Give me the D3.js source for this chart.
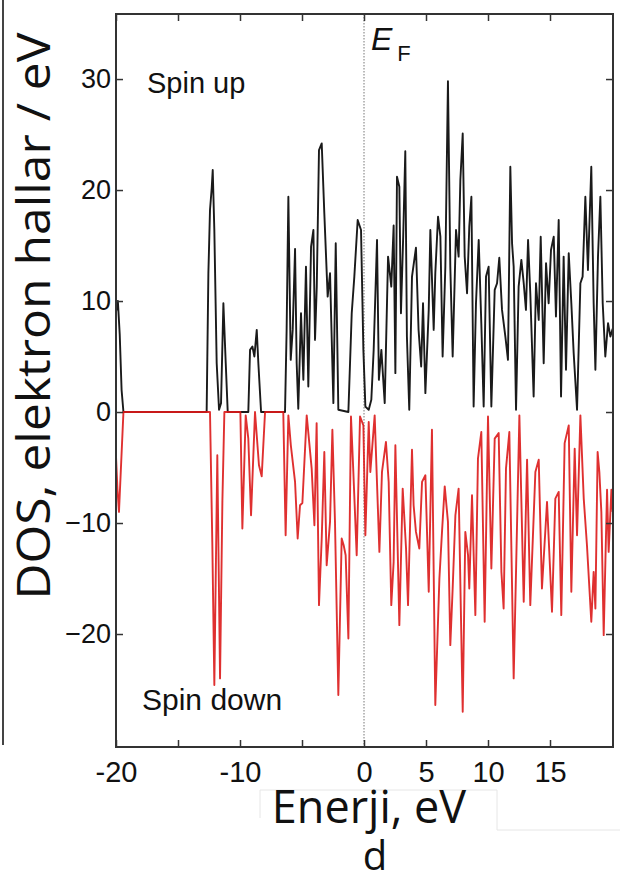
<!DOCTYPE html>
<html><head><meta charset="utf-8">
<script src="https://cdn.jsdelivr.net/npm/d3@7"></script>
<style>body{margin:0;background:#fff}svg{display:block}</style>
</head><body>
<svg id="c" width="623" height="882"></svg>
<script>
// ---- data ----
const upE = [-20,-19.85,-19.7,-19.55,-19.4,-12.69,-12.55,-12.42,-12.28,-12.2,-12.07,-11.88,-11.69,-11.53,-11.34,-11.15,-10.99,-9.33,-9.19,-9.0,-8.84,-8.65,-8.52,-8.3,-6.37,-6.24,-6.1,-5.91,-5.75,-5.56,-5.43,-5.3,-5.08,-4.89,-4.68,-4.49,-4.27,-4.08,-3.95,-3.81,-3.63,-3.41,-3.2,-2.93,-2.74,-2.47,-2.28,-2.07,-1.26,-0.99,-0.78,-0.51,-0.24,-0.05,0.11,0.38,0.59,0.78,1.05,1.2,1.4,1.67,1.94,2.2,2.39,2.53,2.66,2.85,2.98,3.16,3.33,3.46,3.65,3.87,4.19,4.4,4.61,4.76,4.95,5.22,5.35,5.62,5.75,5.97,6.16,6.34,6.56,6.77,6.96,7.15,7.42,7.63,7.77,7.96,8.12,8.31,8.49,8.66,8.84,9.03,9.25,9.46,9.65,9.84,10.05,10.27,10.54,10.73,10.91,11.13,11.4,11.61,11.8,11.94,12.07,12.26,12.47,12.69,12.88,13.06,13.23,13.41,13.68,13.87,14.09,14.25,14.49,14.68,14.89,15.08,15.3,15.48,15.7,15.89,16.1,16.29,16.51,16.72,16.91,17.18,17.45,17.63,17.85,18.06,18.33,18.52,18.66,18.87,19.06,19.25,19.46,19.68,19.87,20.05];
const upDOS = [9,10,7,2,0,0,12.5,18.2,20.2,21.8,16.4,4.4,0.2,0.8,9.8,4.4,0,0,5.6,5.9,5.0,7.4,4.4,0,0,7.4,19.4,4.7,7.4,14.7,4.4,0.3,8.9,2.9,13.1,2.3,14.9,16.4,6.5,11.3,23.6,24.2,17.9,10.4,12.5,0.8,15.2,0.2,0,8.9,12.2,17.3,16.4,5.6,0.5,0.2,1.1,5.6,15.5,2.9,5.6,0.8,14.0,11.3,16.8,3.5,21.2,20.3,8.9,15.8,23.5,6.8,0.2,12.2,14.8,7.4,4.1,9.8,1.7,9.2,16.4,7.4,12.5,17.6,15.8,5.0,13.1,29.8,13.1,5.0,16.4,14.0,20.9,25.1,14.0,10.7,16.7,19.4,0.5,9.8,15.5,8.0,0.5,12.2,13.1,0.5,11.0,11.6,13.9,9.2,6.8,4.7,22.1,15.2,13.1,0.2,11.3,13.7,11.6,9.2,15.5,10.7,1.4,11.6,8.3,15.8,4.4,13.4,9.8,14.6,15.8,8.6,17.3,1.4,14.0,3.8,14.3,9.8,5.3,0.2,11.6,12.2,19.4,12.8,22.1,9.8,3.8,14.0,19.4,9.8,5.0,8.0,6.8,7.5];
const downE = [-20,-19.88,-19.76,-19.6,-19.4,-12.42,-12.23,-12.07,-11.83,-11.61,-11.42,-11.26,-9.97,-9.81,-9.54,-9.33,-9.11,-8.79,-8.47,-8.25,-7.98,-6.51,-6.32,-6.1,-5.9,-5.56,-5.35,-5.16,-4.97,-4.62,-4.22,-4.0,-3.82,-3.63,-3.41,-3.2,-3.01,-2.74,-2.55,-2.34,-2.07,-1.8,-1.64,-1.48,-1.26,-1.05,-0.86,-0.59,-0.32,-0.05,0.11,0.38,0.51,0.86,1.24,1.45,1.77,1.99,2.2,2.39,2.53,2.85,3.12,3.39,3.55,3.87,4.0,4.19,4.46,4.68,4.95,5.22,5.48,5.75,6.08,6.29,6.51,6.77,6.96,7.15,7.37,7.63,7.96,8.17,8.39,8.49,8.71,8.98,9.19,9.46,9.73,10.0,10.27,10.54,10.86,11.08,11.26,11.45,11.72,12.07,12.26,12.53,12.88,13.15,13.41,13.82,14.09,14.35,14.76,15.16,15.43,15.7,15.91,16.18,16.51,16.72,16.99,17.18,17.45,17.72,17.98,18.33,18.52,18.66,18.84,18.98,19.14,19.33,19.6,19.73,19.95,20.05];
const downDOS = [-4,-7,-9.0,-5,0,0,-12,-24.6,-3.9,-24.0,-8,0,0,-10.5,-0.3,-2.4,-9.3,0,-4.8,-5.8,0,0,-11.1,-0.3,-3,-6.3,-11.4,-8.4,-8.2,-0.3,-5.1,-10.2,-1.0,-17.4,-11.4,-3.6,-13.8,-9.9,-1.6,-9.9,-25.5,-11.4,-12.0,-12.9,-20.4,-0.4,-5.4,-12.9,-0.4,-1.2,-11.1,-0.9,-5.4,-0.3,-12.6,-5.4,-2.7,-6.3,-17.4,-13.5,-3.0,-19.2,-6.9,-12.3,-17.4,-3.4,-8.4,-10.8,-12.3,-6.3,-5.7,-16.2,-1.6,-26.4,-15.0,-10.8,-6.7,-9.9,-21.0,-15.9,-9.3,-6.9,-27.0,-10.8,-12.9,-15.9,-7.5,-18.3,-4.2,-1.8,-18.9,-0.4,-14.1,-2.4,-1.9,-14.4,-17.7,-5.1,-1.8,-24.0,-14.4,-0.3,-17.1,-4.3,-17.4,-5.4,-4.3,-15.9,-8.1,-18.0,-7.8,-7.2,-18.3,-2.8,-1.2,-16.2,-3.3,-11.1,-0.3,-7.8,-12.0,-18.9,-14.4,-17.7,-3.6,-5.4,-9.0,-20.1,-7,-12.6,-7,-9];
const xTicks = [-20,-15,-10,-5,0,5,10,15];
const xTickLabels = ["-20","","-10","","0","5","10","15"];
const yTicks = [-20,-10,0,10,20,30];
const xDomain = [-20, 20.08];
const yDomain = [-30.18, 35.86];

// ---- layout ----
const L = 116, R = 613, T = 14, B = 747;
const svg = d3.select("#c");
const x = d3.scaleLinear().domain(xDomain).range([L, R]);
const y = d3.scaleLinear().domain(yDomain).range([B, T]);
const tickFont = "'Liberation Sans', Arial, sans-serif";
const frameCol = "#333";

// faint scan artifacts
svg.append("line").attr("x1",3).attr("x2",3).attr("y1",0).attr("y2",745).attr("stroke","#444").attr("stroke-width",2);
const faint = "#e6e6e6";
[[260,790,497,790],[260,790,260,818],[497,790,497,830],[497,830,620,830]].forEach(s=>{
  svg.append("line").attr("x1",s[0]).attr("y1",s[1]).attr("x2",s[2]).attr("y2",s[3]).attr("stroke",faint).attr("stroke-width",1);
});

// Fermi level dotted line
svg.append("line").attr("x1",x(0)).attr("x2",x(0)).attr("y1",T).attr("y2",B)
  .attr("stroke","#777").attr("stroke-width",1).attr("stroke-dasharray","1.5,1.5");

const line = d3.line().x(d=>x(d[0])).y(d=>y(d[1]));
const up = upE.map((e,i)=>[e, upDOS[i]]);
const down = downE.map((e,i)=>[e, downDOS[i]]);
svg.append("path").attr("d", line(up)).attr("fill","none").attr("stroke","#1a1a1a").attr("stroke-width",1.9).attr("stroke-linejoin","round");
svg.append("path").attr("d", line(down)).attr("fill","none").attr("stroke","#dc1a1a").attr("stroke-opacity",0.9).attr("stroke-width",1.9).attr("stroke-linejoin","round");

// axes (inward ticks)
function styleAxis(g){ g.select(".domain").remove(); g.selectAll(".tick line").attr("stroke",frameCol).attr("stroke-width",1.5); }
const gB = svg.append("g").attr("transform",`translate(0,${B})`)
  .call(d3.axisBottom(x).tickValues(xTicks).tickSize(-7).tickPadding(14).tickFormat((d,i)=>xTickLabels[i]));
styleAxis(gB);
gB.selectAll("text").attr("font-family",tickFont).attr("font-size",29).attr("fill","#111");
const gT = svg.append("g").attr("transform",`translate(0,${T})`)
  .call(d3.axisTop(x).tickValues(xTicks).tickSize(-7).tickFormat(""));
styleAxis(gT);
const gL = svg.append("g").attr("transform",`translate(${L},0)`)
  .call(d3.axisLeft(y).tickValues(yTicks).tickSize(-7).tickPadding(5));
styleAxis(gL);
gL.selectAll("text").attr("font-family",tickFont).attr("font-size",27).attr("fill","#111");
const gR = svg.append("g").attr("transform",`translate(${R},0)`)
  .call(d3.axisRight(y).tickValues(yTicks).tickSize(-7).tickFormat(""));
styleAxis(gR);

// frame
svg.append("rect").attr("x",L).attr("y",T).attr("width",R-L).attr("height",B-T)
  .attr("fill","none").attr("stroke",frameCol).attr("stroke-width",2);

// annotations
svg.append("text").attr("x",147).attr("y",93).attr("font-family",tickFont).attr("font-size",29).attr("fill","#111").text("Spin up");
svg.append("text").attr("x",142).attr("y",710).attr("font-family",tickFont).attr("font-size",30).attr("fill","#111").text("Spin down");
const ef = svg.append("text").attr("x",371).attr("y",50).attr("font-family",tickFont).attr("fill","#111");
ef.append("tspan").attr("font-size",32).attr("font-style","italic").text("E");
ef.append("tspan").attr("font-size",22).attr("dx",5).attr("dy",11).text("F");

// axis titles
const titleFont = "'Open Sans', 'Noto Sans', sans-serif";
svg.append("text").attr("transform","translate(50,316) rotate(-90)").attr("text-anchor","middle")
  .attr("font-family",titleFont).attr("font-size",46).attr("fill","#111")
  .attr("textLength",567).attr("lengthAdjust","spacingAndGlyphs").text("DOS, elektron hallar / eV");
svg.append("text").attr("x",369).attr("y",823).attr("text-anchor","middle")
  .attr("font-family",titleFont).attr("font-size",45).attr("fill","#111").text("Enerji, eV");
svg.append("text").attr("x",375).attr("y",870).attr("text-anchor","middle")
  .attr("font-family",titleFont).attr("font-size",40).attr("fill","#111").text("d");
</script>
</body></html>
